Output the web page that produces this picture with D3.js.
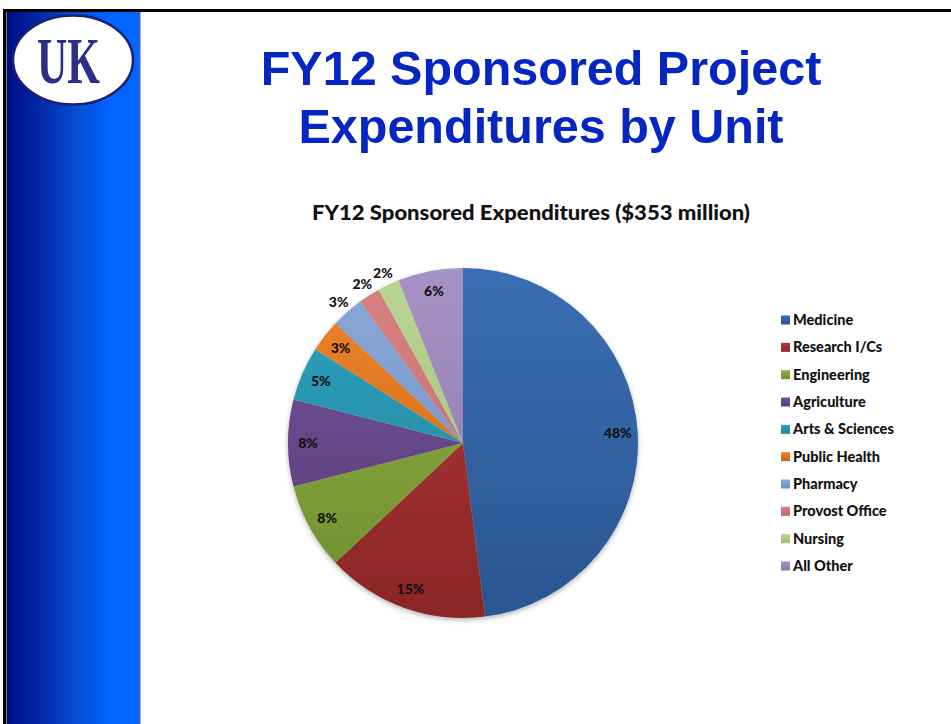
<!DOCTYPE html>
<html>
<head>
<meta charset="utf-8">
<script src="https://cdn.jsdelivr.net/npm/d3@7"></script>
<style>
  body { margin: 0; background: #fff; }
  svg { display: block; }
</style>
</head>
<body>
<svg id="chart" width="951" height="724"></svg>
<script>
// data
const units = ["Medicine", "Research I/Cs", "Engineering", "Agriculture", "Arts & Sciences",
               "Public Health", "Pharmacy", "Provost Office", "Nursing", "All Other"];
const shares = [48, 15, 8, 8, 5, 3, 3, 2, 2, 6];
const topColors = ["#3a6eb4", "#b3393a", "#8db040", "#73519a", "#30a2c0",
                   "#f0842a", "#8aa8d8", "#d98282", "#bad494", "#a692c4"];
const bottomColors = ["#2a5590", "#8a2626", "#6e8e30", "#583c78", "#238398",
                      "#c6661a", "#6f8ec0", "#be6868", "#9fbd78", "#8a76a8"];
const outsideLabels = ["Pharmacy", "Provost Office", "Nursing"];

const svg = d3.select("#chart");
const width = 951;
const defs = svg.append("defs");
const labelFont = "Lato, 'Open Sans', sans-serif";

// left side bar gradient
const barGrad = defs.append("linearGradient").attr("id", "bar-grad")
    .attr("x1", "0%").attr("x2", "100%").attr("y1", "0%").attr("y2", "0%");
barGrad.append("stop").attr("offset", "0%").attr("stop-color", "#000a80");
barGrad.append("stop").attr("offset", "55%").attr("stop-color", "#0550d8");
barGrad.append("stop").attr("offset", "80%").attr("stop-color", "#0066ff");
barGrad.append("stop").attr("offset", "100%").attr("stop-color", "#0066ff");

svg.append("rect").attr("x", 7).attr("y", 11).attr("width", 132).attr("height", 713)
    .attr("fill", "url(#bar-grad)");
svg.append("rect").attr("x", 139).attr("y", 11).attr("width", 1.5).attr("height", 713)
    .attr("fill", "#4a5ad0");
// black frame lines
svg.append("rect").attr("x", 3).attr("y", 9).attr("width", width - 3).attr("height", 3).attr("fill", "#000");
svg.append("rect").attr("x", 3).attr("y", 9).attr("width", 3.5).attr("height", 715).attr("fill", "#000");

// UK logo
svg.append("ellipse").attr("cx", 73).attr("cy", 60).attr("rx", 60).attr("ry", 44.5)
    .attr("fill", "#fff").attr("stroke", "#1a1f78").attr("stroke-width", 2.5);
svg.append("text")
    .attr("x", 37).attr("y", 83)
    .attr("textLength", 63).attr("lengthAdjust", "spacingAndGlyphs")
    .style("font-family", "'Liberation Serif', serif")
    .style("font-weight", "bold")
    .style("font-size", "66px")
    .attr("fill", "#2b2f85")
    .text("UK");

// slide title
const title = svg.append("text")
    .attr("text-anchor", "middle")
    .style("font-family", "'Liberation Sans', Arial, sans-serif")
    .style("font-weight", "bold")
    .style("font-size", "48.5px")
    .attr("fill", "#0626c2");
title.append("tspan").attr("x", 541).attr("y", 85).text("FY12 Sponsored Project");
title.append("tspan").attr("x", 541).attr("y", 143).text("Expenditures by Unit");

// chart title
svg.append("text")
    .attr("x", 531).attr("y", 220)
    .attr("text-anchor", "middle")
    .attr("textLength", 438).attr("lengthAdjust", "spacingAndGlyphs")
    .style("font-family", labelFont)
    .style("font-weight", 900)
    .style("font-size", "20px")
    .attr("fill", "#111")
    .text("FY12 Sponsored Expenditures ($353 million)");

// pie
const cx = 463, cy = 443, radius = 175;
const data = units.map((u, i) => ({ unit: u, value: shares[i], i }));

data.forEach(d => {
    const g = defs.append("linearGradient").attr("id", "slice-" + d.i)
        .attr("gradientUnits", "userSpaceOnUse")
        .attr("x1", 0).attr("x2", 0).attr("y1", -radius).attr("y2", radius);
    g.append("stop").attr("offset", "0%").attr("stop-color", topColors[d.i]);
    g.append("stop").attr("offset", "100%").attr("stop-color", bottomColors[d.i]);
    const l = defs.append("linearGradient").attr("id", "leg-" + d.i)
        .attr("x1", 0).attr("x2", 0).attr("y1", 0).attr("y2", 1);
    l.append("stop").attr("offset", "0%").attr("stop-color", topColors[d.i]);
    l.append("stop").attr("offset", "100%").attr("stop-color", bottomColors[d.i]);
});

const shadow = defs.append("filter").attr("id", "pie-shadow")
    .attr("x", "-20%").attr("y", "-20%").attr("width", "140%").attr("height", "140%");
shadow.append("feDropShadow").attr("dx", 0).attr("dy", 2).attr("stdDeviation", 2.5)
    .attr("flood-color", "#000").attr("flood-opacity", 0.3);

const pie = d3.pie().value(d => d.value).sort(null);
const arcs = pie(data);
const arc = d3.arc().innerRadius(0).outerRadius(radius);
const inLabel = d3.arc().innerRadius(155).outerRadius(155);
const outLabel = d3.arc().innerRadius(188).outerRadius(188);

const pieG = svg.append("g").attr("transform", `translate(${cx},${cy})`);
pieG.append("g").attr("filter", "url(#pie-shadow)")
    .selectAll("path")
    .data(arcs)
    .join("path")
    .attr("d", arc)
    .attr("fill", d => `url(#slice-${d.data.i})`);

pieG.append("g")
    .selectAll("text")
    .data(arcs)
    .join("text")
    .attr("transform", d => {
        const a = outsideLabels.includes(d.data.unit) ? outLabel : inLabel;
        return `translate(${a.centroid(d)})`;
    })
    .attr("text-anchor", "middle")
    .attr("dy", "0.35em")
    .style("font-family", labelFont)
    .style("font-weight", 900)
    .style("font-size", "14px")
    .attr("fill", "#111")
    .text(d => d.data.value + "%");

// legend
const legendY = d3.scalePoint().domain(units).range([320, 566]);
const legend = svg.append("g")
    .selectAll("g")
    .data(data)
    .join("g")
    .attr("transform", d => `translate(781,${legendY(d.unit)})`);
legend.append("rect")
    .attr("x", 0).attr("y", -4.5).attr("width", 9).attr("height", 9)
    .attr("fill", d => `url(#leg-${d.i})`);
legend.append("text")
    .attr("x", 12).attr("dy", "0.35em")
    .style("font-family", labelFont)
    .style("font-weight", 900)
    .style("font-size", "14.5px")
    .attr("fill", "#111")
    .text(d => d.unit);
</script>
</body>
</html>
